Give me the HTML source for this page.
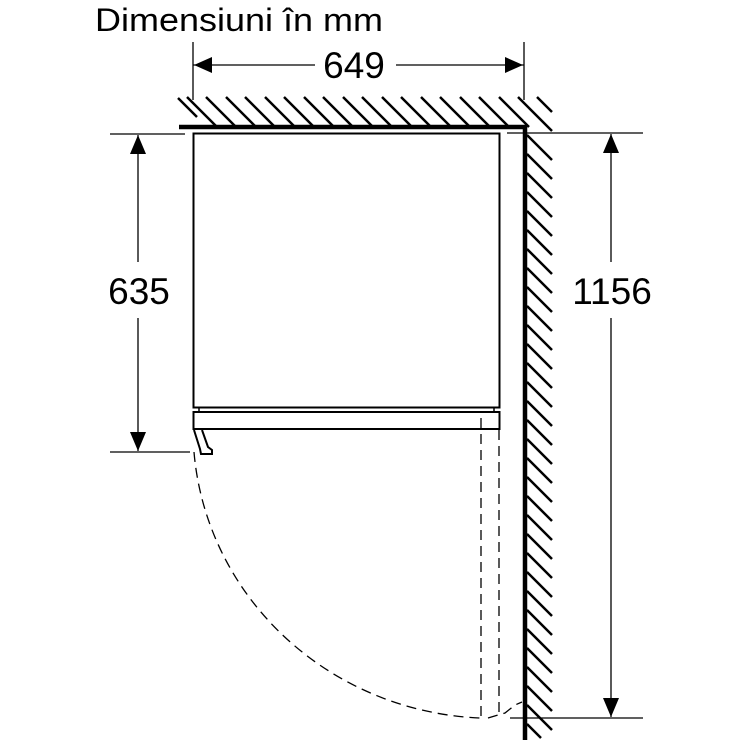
<!DOCTYPE html>
<html><head><meta charset="utf-8"><style>
html,body{margin:0;padding:0;background:#fff}
svg{display:block}
text{font-family:"Liberation Sans",Arial,sans-serif;fill:#000}
</style></head><body>
<svg width="746" height="746" viewBox="0 0 746 746" xmlns="http://www.w3.org/2000/svg">
<text x="95" y="31" font-size="32" textLength="288" lengthAdjust="spacingAndGlyphs">Dimensiuni în mm</text>
<!-- 649 dimension -->
<line x1="193" y1="42" x2="193" y2="100" stroke="#000" stroke-width="1.3"/>
<line x1="524" y1="42" x2="524" y2="100" stroke="#000" stroke-width="1.3"/>
<line x1="193" y1="65" x2="315" y2="65" stroke="#000" stroke-width="1.3"/>
<line x1="396" y1="65" x2="524" y2="65" stroke="#000" stroke-width="1.3"/>
<polygon points="194,65 212,57 212,73" fill="#000"/>
<polygon points="523,65 505,57 505,73" fill="#000"/>
<text x="354" y="78" font-size="37" text-anchor="middle">649</text>
<!-- 635 dimension -->
<line x1="110" y1="134" x2="185" y2="134" stroke="#000" stroke-width="1.2"/>
<line x1="110" y1="452" x2="190" y2="452" stroke="#000" stroke-width="1.2"/>
<line x1="138" y1="135" x2="138" y2="262" stroke="#000" stroke-width="1.3"/>
<line x1="138" y1="318" x2="138" y2="451" stroke="#000" stroke-width="1.3"/>
<polygon points="138,135 130,154 146,154" fill="#000"/>
<polygon points="138,451 130,432 146,432" fill="#000"/>
<text x="139" y="304" font-size="37" text-anchor="middle">635</text>
<!-- 1156 dimension -->
<line x1="507" y1="133" x2="643" y2="133" stroke="#000" stroke-width="1.2"/>
<line x1="510" y1="718" x2="643" y2="718" stroke="#000" stroke-width="1.2"/>
<line x1="611" y1="134" x2="611" y2="262" stroke="#000" stroke-width="1.3"/>
<line x1="611" y1="318" x2="611" y2="717" stroke="#000" stroke-width="1.3"/>
<polygon points="611,134 603,153 619,153" fill="#000"/>
<polygon points="611,717 603,698 619,698" fill="#000"/>
<text x="612" y="304" font-size="37" text-anchor="middle">1156</text>
<!-- walls -->
<g stroke="#000" stroke-width="2.5">
<line x1="178" y1="98" x2="197" y2="117"/>
<line x1="187" y1="97" x2="217" y2="127"/>
<line x1="206" y1="97" x2="236" y2="127"/>
<line x1="226" y1="97" x2="256" y2="127"/>
<line x1="245" y1="97" x2="275" y2="127"/>
<line x1="265" y1="97" x2="295" y2="127"/>
<line x1="284" y1="97" x2="314" y2="127"/>
<line x1="304" y1="97" x2="334" y2="127"/>
<line x1="323" y1="97" x2="353" y2="127"/>
<line x1="343" y1="97" x2="373" y2="127"/>
<line x1="362" y1="97" x2="392" y2="127"/>
<line x1="382" y1="97" x2="412" y2="127"/>
<line x1="401" y1="97" x2="431" y2="127"/>
<line x1="421" y1="97" x2="451" y2="127"/>
<line x1="440" y1="97" x2="470" y2="127"/>
<line x1="460" y1="97" x2="490" y2="127"/>
<line x1="479" y1="97" x2="509" y2="127"/>
<line x1="499" y1="97" x2="529" y2="127"/>
<line x1="518" y1="97" x2="552" y2="131"/>
<line x1="537" y1="97" x2="552" y2="112"/>
</g>
<g stroke="#000" stroke-width="2.5">
<line x1="527" y1="135" x2="552" y2="160"/>
<line x1="527" y1="154" x2="552" y2="179"/>
<line x1="527" y1="173" x2="552" y2="198"/>
<line x1="527" y1="192" x2="552" y2="217"/>
<line x1="527" y1="211" x2="552" y2="236"/>
<line x1="527" y1="230" x2="552" y2="255"/>
<line x1="527" y1="249" x2="552" y2="274"/>
<line x1="527" y1="268" x2="552" y2="293"/>
<line x1="527" y1="287" x2="552" y2="312"/>
<line x1="527" y1="306" x2="552" y2="331"/>
<line x1="527" y1="325" x2="552" y2="350"/>
<line x1="527" y1="344" x2="552" y2="369"/>
<line x1="527" y1="363" x2="552" y2="388"/>
<line x1="527" y1="382" x2="552" y2="407"/>
<line x1="527" y1="401" x2="552" y2="426"/>
<line x1="527" y1="420" x2="552" y2="445"/>
<line x1="527" y1="439" x2="552" y2="464"/>
<line x1="527" y1="458" x2="552" y2="483"/>
<line x1="527" y1="477" x2="552" y2="502"/>
<line x1="527" y1="496" x2="552" y2="521"/>
<line x1="527" y1="515" x2="552" y2="540"/>
<line x1="527" y1="534" x2="552" y2="559"/>
<line x1="527" y1="553" x2="552" y2="578"/>
<line x1="527" y1="572" x2="552" y2="597"/>
<line x1="527" y1="591" x2="552" y2="616"/>
<line x1="527" y1="610" x2="552" y2="635"/>
<line x1="527" y1="629" x2="552" y2="654"/>
<line x1="527" y1="648" x2="552" y2="673"/>
<line x1="527" y1="667" x2="552" y2="692"/>
<line x1="527" y1="686" x2="552" y2="711"/>
<line x1="527" y1="705" x2="552" y2="730"/>
<line x1="527" y1="724" x2="541" y2="738"/>
</g>
<line x1="179" y1="127" x2="527" y2="127" stroke="#000" stroke-width="4.5"/>
<line x1="525" y1="125" x2="525" y2="740" stroke="#000" stroke-width="4.5"/>
<!-- cabinet -->
<rect x="193.5" y="133.5" width="306" height="274" fill="none" stroke="#000" stroke-width="2"/>
<line x1="199" y1="408" x2="199" y2="412" stroke="#000" stroke-width="1.5"/>
<line x1="494" y1="408" x2="494" y2="412" stroke="#000" stroke-width="1.5"/>
<rect x="193.5" y="412" width="306" height="17" fill="none" stroke="#000" stroke-width="2"/>
<path d="M194,430 L200,449 L201,454 L212,454 L212,450 L208,447 L202,430" fill="none" stroke="#000" stroke-width="2"/>
<!-- door swing -->
<g stroke="#000" stroke-width="1.3" fill="none" stroke-dasharray="10,6">
<line x1="481" y1="418" x2="481" y2="718"/>
<line x1="499" y1="430" x2="499" y2="718"/>
<path d="M194,452 A300,290 0 0 0 480,718"/>
<path d="M488,718 L505,713 L515,705 L522,702"/>
</g>
</svg>
</body></html>
